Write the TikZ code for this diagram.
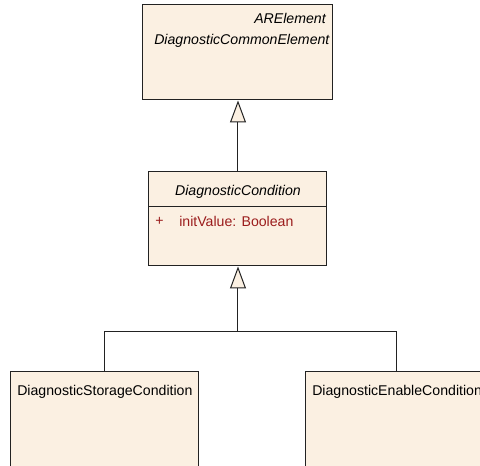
\documentclass[tikz,border=0pt]{standalone}
\usepackage{fontspec}
\setmainfont{Liberation Sans}
\usetikzlibrary{positioning,arrows.meta}
\definecolor{UMLFill}{HTML}{FBF0E2}
\definecolor{UMLLine}{HTML}{222222}
\definecolor{UMLRed}{HTML}{9B1C1C}

\begin{document}
\begin{tikzpicture}[
  x=0.75pt, y=-0.75pt,
  umlbox/.style={draw=UMLLine, fill=UMLFill, line width=0.75pt, inner sep=0pt},
  txt/.style={inner sep=0pt, font=\fontsize{10.6}{12}\selectfont},
  gen/.style={-{Triangle[length=16.5pt, width=12pt, fill=UMLFill]}, line width=0.75pt, draw=UMLLine},
  conn/.style={line width=0.75pt, draw=UMLLine}
]
\useasboundingbox (0,0) rectangle (480,466);
\clip (0,0) rectangle (480,466);
% classes
\node[umlbox, minimum width=142.5pt, minimum height=71.25pt] (common) at (238,52.5) {};
\node[txt, anchor=east, font=\fontsize{10.6}{12}\selectfont\itshape] (arel) at (326,18) {ARElement};
\node[txt, anchor=west, font=\fontsize{10.6}{12}\selectfont\itshape] (commonname) at (154,41) {DiagnosticCommonElement};

\node[umlbox, minimum width=133.5pt, minimum height=70.5pt] (cond) at (238,219) {};
\node[txt, font=\fontsize{10.6}{12}\selectfont\itshape] (condname) at (238,192) {DiagnosticCondition};
\draw[conn] (cond.west |- 0,207) -- (cond.east |- 0,207);
\node[txt, anchor=west, text=UMLRed] (plus) at (155,221) {+};
\node[txt, anchor=west, text=UMLRed] (initval) at (179,221) {initValue: Boolean};

\node[umlbox, minimum width=141pt, minimum height=82.5pt] (storage) at (105,427) {};
\node[txt, anchor=west] (storagename) at (17,392) {DiagnosticStorageCondition};
\node[umlbox, minimum width=136.5pt, minimum height=82.5pt] (enable) at (397,427) {};
\node[txt, anchor=west] (enablename) at (312,392) {DiagnosticEnableCondition};

% generalizations
\coordinate (bus) at (238,332);
\draw[gen] (cond.north) -- (common.south);
\draw[conn] (storage.north) |- (bus);
\draw[conn] (enable.north) |- (bus);
\draw[gen] (bus) -- (cond.south);
\end{tikzpicture}
\end{document}
